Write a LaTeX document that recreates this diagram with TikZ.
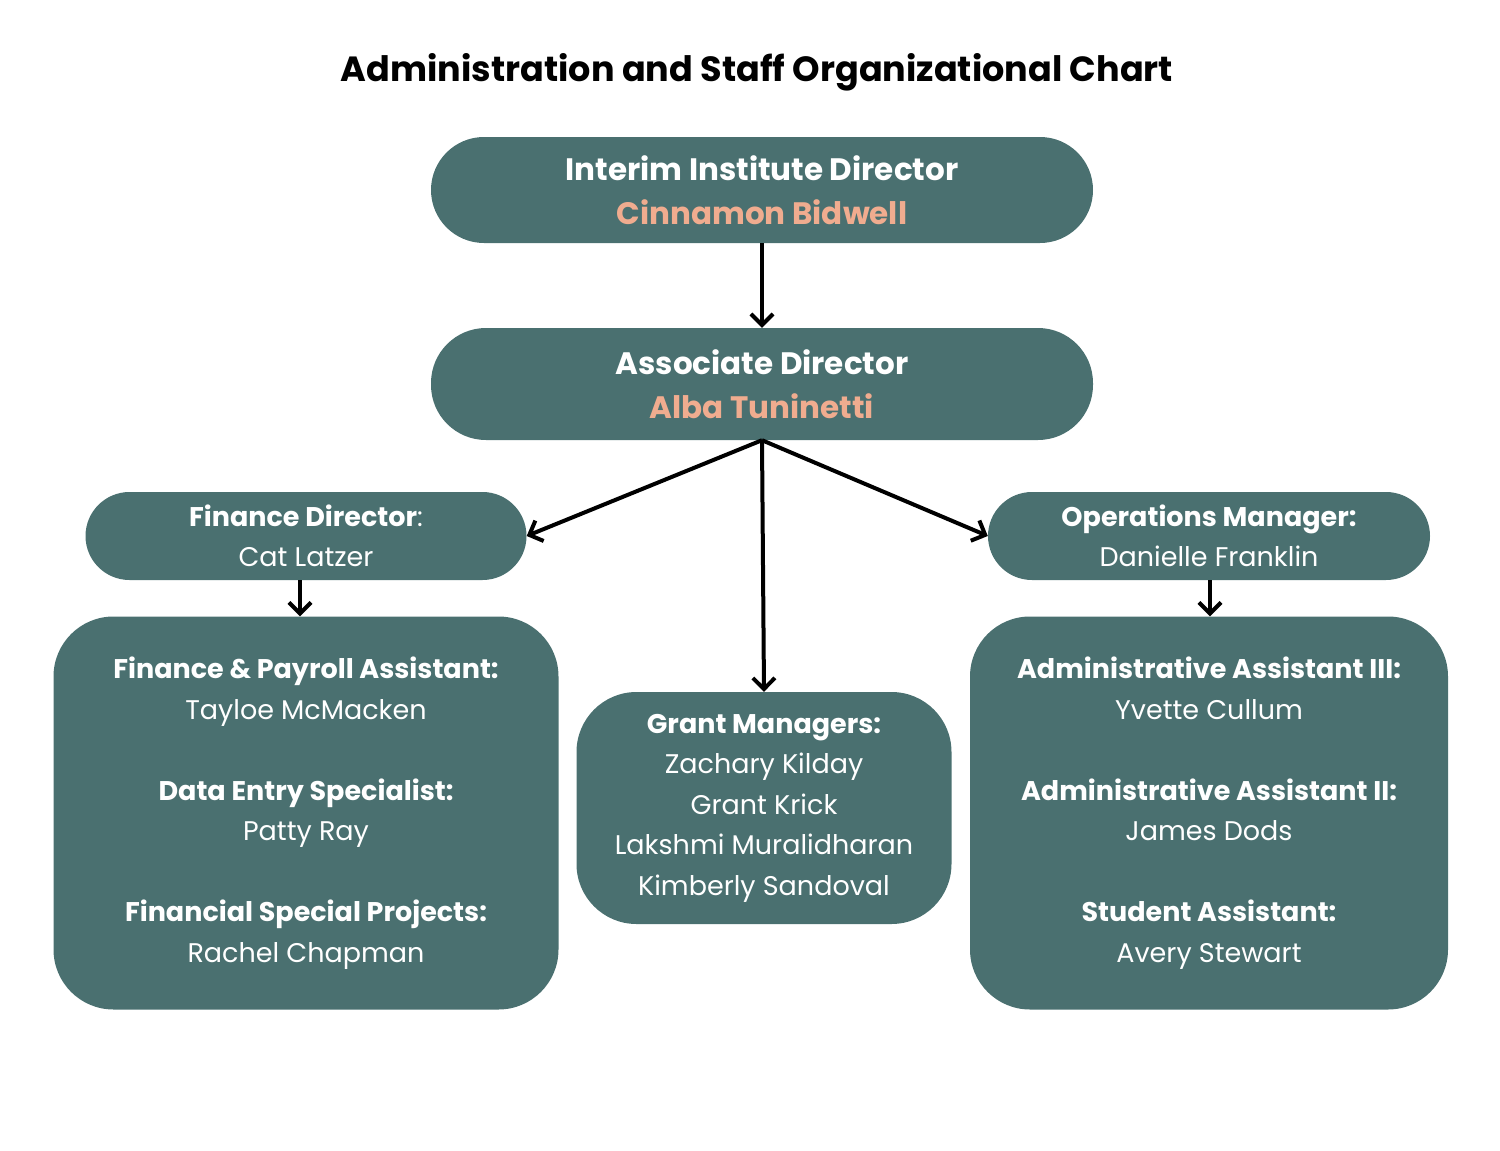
\documentclass[tikz,border=0pt]{standalone}
\usepackage{fontspec}
\setmainfont{Poppins}
\usetikzlibrary{arrows.meta}
\definecolor{teal}{HTML}{4A7070}
\definecolor{salmon}{HTML}{F0AC8F}
\begin{document}
\begin{tikzpicture}[x=1pt,y=-1pt,
  box/.style={fill=teal,text=white,align=center,inner sep=0pt},
  conn/.style={line width=4pt,-{Straight Barb[length=11pt,width=22pt,line width=4pt]}},
  big/.style={font=\fontsize{31}{44}\selectfont},
  mid/.style={font=\fontsize{27}{40.5}\selectfont}]
\useasboundingbox (0,0) rectangle (1500,1151);
\node[font=\fontsize{35}{40}\selectfont\bfseries] (title) at (757,72) {Administration and Staff Organizational Chart};
\node[box,big,rounded corners=53pt,minimum width=662pt,minimum height=106pt] (top) at (762,190) {\textbf{Interim Institute Director}\\\textcolor{salmon}{\textbf{Cinnamon Bidwell}}};
\node[box,big,rounded corners=55pt,minimum width=662pt,minimum height=112pt] (assoc) at (762,384) {\textbf{Associate Director}\\\textcolor{salmon}{\textbf{Alba Tuninetti}}};
\node[box,mid,rounded corners=44pt,minimum width=441pt,minimum height=88pt] (fin) at (306,536) {\textbf{Finance Director}:\\Cat Latzer};
\node[box,mid,rounded corners=44pt,minimum width=442pt,minimum height=88pt] (ops) at (1209,536) {\textbf{Operations Manager:}\\Danielle Franklin};
\node[box,mid,rounded corners=60pt,minimum width=505pt,minimum height=393pt] (lft) at (306,813) {\textbf{Finance \& Payroll Assistant:}\\Tayloe McMacken\\[40.5pt]\textbf{Data Entry Specialist:}\\Patty Ray\\[40.5pt]\textbf{Financial Special Projects:}\\Rachel Chapman};
\node[box,mid,rounded corners=60pt,minimum width=375pt,minimum height=232pt] (grant) at (764,808) {\textbf{Grant Managers:}\\Zachary Kilday\\Grant Krick\\Lakshmi Muralidharan\\Kimberly Sandoval};
\node[box,mid,rounded corners=60pt,minimum width=478pt,minimum height=393pt] (rgt) at (1209,813) {\textbf{Administrative Assistant III:}\\Yvette Cullum\\[40.5pt]\textbf{Administrative Assistant II:}\\James Dods\\[40.5pt]\textbf{Student Assistant:}\\Avery Stewart};
\draw[conn] (top.south) -- (assoc.north);
\draw[conn] (assoc.south) -- (fin.east);
\draw[conn] (assoc.south) -- (ops.west);
\draw[conn] (assoc.south) -- (grant.north);
\draw[conn] (fin.south -| 300,0) -- (lft.north -| 300,0);
\draw[conn] (ops.south -| 1210,0) -- (rgt.north -| 1210,0);
\end{tikzpicture}
\end{document}
